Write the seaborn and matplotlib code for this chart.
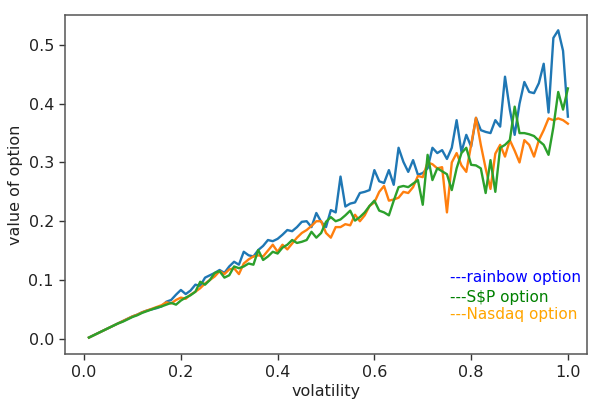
import numpy as np
import pandas as pd
import matplotlib
matplotlib.use("Agg")
import matplotlib.pyplot as plt
import seaborn as sns

volatility = [round(0.01 * i, 2) for i in range(1, 101)]

rainbow = [
    0.002, 0.006, 0.010, 0.014, 0.018, 0.022, 0.026, 0.030, 0.034, 0.038,
    0.041, 0.045, 0.048, 0.050, 0.052, 0.055, 0.063, 0.066, 0.075, 0.083,
    0.076, 0.082, 0.092, 0.090, 0.104, 0.108, 0.112, 0.117, 0.112, 0.123,
    0.131, 0.126, 0.148, 0.142, 0.140, 0.151, 0.158, 0.168, 0.166, 0.170,
    0.177, 0.185, 0.183, 0.190, 0.199, 0.200, 0.190, 0.214, 0.199, 0.190,
    0.219, 0.215, 0.276, 0.225, 0.230, 0.232, 0.248, 0.250, 0.253, 0.287,
    0.268, 0.265, 0.287, 0.262, 0.325, 0.301, 0.284, 0.304, 0.279, 0.282,
    0.290, 0.325, 0.316, 0.321, 0.306, 0.325, 0.372, 0.318, 0.347, 0.327,
    0.376, 0.355, 0.352, 0.350, 0.372, 0.361, 0.446, 0.390, 0.347, 0.400,
    0.437, 0.420, 0.418, 0.435, 0.468, 0.385, 0.512, 0.525, 0.490, 0.378,
]

nasdaq = [
    0.002, 0.006, 0.010, 0.014, 0.018, 0.022, 0.026, 0.030, 0.034, 0.038,
    0.041, 0.045, 0.048, 0.051, 0.054, 0.057, 0.062, 0.060, 0.066, 0.070,
    0.068, 0.075, 0.080, 0.086, 0.094, 0.100, 0.106, 0.115, 0.110, 0.118,
    0.120, 0.110, 0.128, 0.135, 0.140, 0.142, 0.140, 0.150, 0.160, 0.148,
    0.160, 0.152, 0.162, 0.172, 0.180, 0.185, 0.192, 0.200, 0.200, 0.180,
    0.172, 0.190, 0.190, 0.195, 0.193, 0.211, 0.200, 0.210, 0.226, 0.232,
    0.250, 0.260, 0.235, 0.237, 0.240, 0.250, 0.248, 0.258, 0.277, 0.275,
    0.300, 0.297, 0.290, 0.292, 0.215, 0.300, 0.316, 0.295, 0.284, 0.330,
    0.376, 0.330, 0.290, 0.255, 0.315, 0.330, 0.310, 0.338, 0.320, 0.300,
    0.338, 0.330, 0.310, 0.338, 0.355, 0.375, 0.372, 0.375, 0.372, 0.366,
]

sp = [
    0.002, 0.006, 0.010, 0.014, 0.018, 0.022, 0.026, 0.029, 0.033, 0.037,
    0.040, 0.044, 0.047, 0.050, 0.053, 0.055, 0.058, 0.061, 0.058, 0.065,
    0.070, 0.074, 0.080, 0.097, 0.092, 0.100, 0.112, 0.115, 0.104, 0.108,
    0.123, 0.120, 0.123, 0.128, 0.126, 0.151, 0.134, 0.140, 0.148, 0.145,
    0.155, 0.160, 0.168, 0.163, 0.165, 0.168, 0.182, 0.172, 0.180, 0.199,
    0.207, 0.200, 0.203, 0.210, 0.218, 0.201, 0.207, 0.215, 0.226, 0.235,
    0.218, 0.215, 0.210, 0.235, 0.258, 0.260, 0.258, 0.264, 0.270, 0.228,
    0.313, 0.270, 0.290, 0.285, 0.280, 0.253, 0.290, 0.316, 0.325, 0.296,
    0.295, 0.290, 0.248, 0.304, 0.250, 0.325, 0.330, 0.338, 0.395, 0.350,
    0.350, 0.348, 0.345, 0.337, 0.330, 0.313, 0.360, 0.420, 0.390, 0.426,
]

series_names = ["rainbow option", "Nasdaq option", "S$P option"]
line_colors = ["#1f77b4", "#ff7f0e", "#2ca02c"]

fig = plt.figure(figsize=(5.89, 4.03), dpi=100)
ax = fig.add_axes([65 / 589, 49 / 403, 522 / 589, 339 / 403])

for vals, c in zip([rainbow, nasdaq, sp], line_colors):
    df = pd.DataFrame({"volatility": volatility, "value": vals})
    sns.lineplot(data=df, x="volatility", y="value", color=c, linewidth=1.7, ax=ax)

ax.set_xlim(-0.0395, 1.0395)
ax.set_ylim(-0.026, 0.551)
ax.set_xticks([0.0, 0.2, 0.4, 0.6, 0.8, 1.0])
ax.set_yticks([0.0, 0.1, 0.2, 0.3, 0.4, 0.5])
ax.tick_params(labelsize=11.5, length=4.5, width=1, colors="#333333", labelcolor="#222222")
for s in ax.spines.values():
    s.set_color("#555555")
    s.set_linewidth(1.1)
ax.set_xlabel("volatility", fontsize=11.5, color="#222222", labelpad=3)
ax.set_ylabel("value of option", fontsize=11.5, color="#222222")

ax.text(0.757, 0.105, "---rainbow option", color="blue", fontsize=11, va="center")
ax.text(0.757, 0.071, "---S$P option", color="green", fontsize=11, va="center")
ax.text(0.757, 0.041, "---Nasdaq option", color="orange", fontsize=11, va="center")

fig.savefig("out.png", dpi=100)
